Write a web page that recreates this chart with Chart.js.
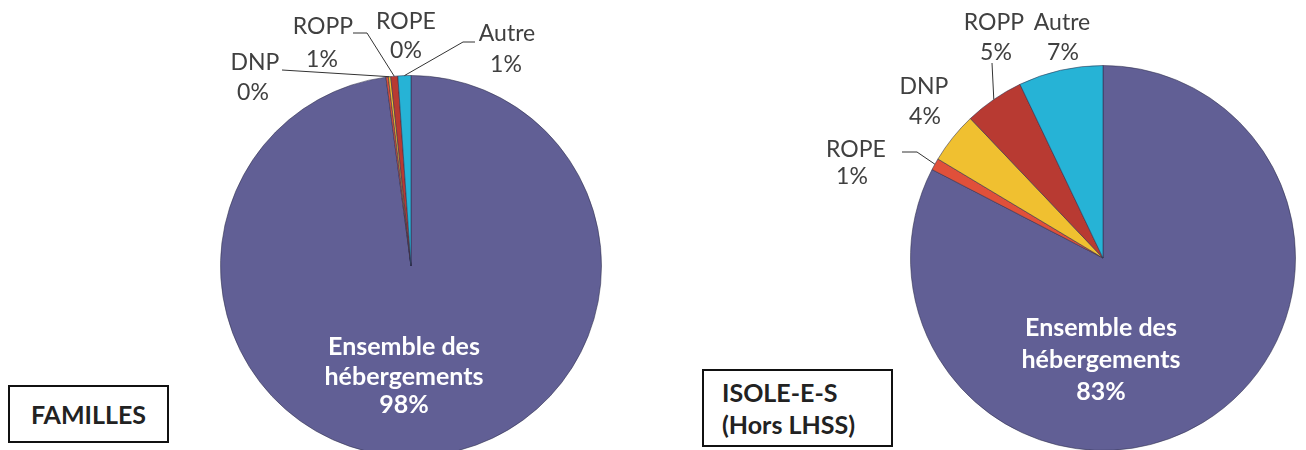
<!DOCTYPE html>
<html>
<head>
<meta charset="utf-8">
<script src="https://cdn.jsdelivr.net/npm/chart.js@4"></script>
<style>
  html, body { margin: 0; padding: 0; background: #fff; }
  body { position: relative; width: 1306px; height: 450px; overflow: hidden; font-family: Lato, sans-serif; }
  .wrap { position: absolute; top: 0; height: 460px; }
  .box { position: absolute; box-sizing: border-box; border: 2px solid #111; background: #fff;
         font-weight: bold; color: #222; font-size: 25px; }
</style>
</head>
<body>
<div class="wrap" style="left:0;width:660px"><canvas id="famillesChart"></canvas></div>
<div class="wrap" style="left:660px;width:646px"><canvas id="isolesChart"></canvas></div>
<div class="box" style="left:8px;top:385px;width:161px;height:58px;display:flex;align-items:center;justify-content:center;">FAMILLES</div>
<div class="box" style="left:702px;top:369px;width:191px;height:78px;padding:5px 0 0 18px;line-height:32px;">ISOLE-E-S<br>(Hors LHSS)</div>
<script>
// categories, in drawing order (clockwise from 12 o'clock)
const categories = ['Ensemble des hébergements', 'ROPE', 'DNP', 'ROPP', 'Autre'];
// percentages
const famillesValues = [97.9, 0.2, 0.2, 0.6, 1.1];
const isolesValues = [82.6, 1.0, 4.3, 5.0, 7.1];

const sliceColors = ['#615f95', '#e0503a', '#f0c030', '#b83a32', '#26b3d6'];

// draws the data labels + leader lines (leaders end on the slice's outer edge)
const sliceLabels = {
    id: 'sliceLabels',
    afterDatasetsDraw(chart, args, opts) {
        const ctx = chart.ctx;
        const meta = chart.getDatasetMeta(0);
        const values = chart.data.datasets[0].data;
        const total = values.reduce((a, b) => a + b, 0);
        ctx.save();
        opts.items.forEach(item => {
            const arc = meta.data[item.index];
            const pct = Math.round(values[item.index] / total * 100) + '%';
            const name = chart.data.labels[item.index];
            let lines;
            if (item.inside) {
                lines = name.replace('des ', 'des\n').split('\n').concat([pct]);
                ctx.fillStyle = '#ffffff';
                ctx.font = 'bold 25px Lato';
            } else {
                lines = [name, pct];
                ctx.fillStyle = '#404040';
                ctx.font = '23px Lato';
            }
            ctx.textAlign = 'center';
            ctx.textBaseline = 'middle';
            lines.forEach((t, i) => ctx.fillText(t, item.x[i] !== undefined ? item.x[i] : item.x[0], item.y[i]));

            if (item.leader) {
                const mid = (arc.startAngle + arc.endAngle) / 2;
                const ex = arc.x + Math.cos(mid) * arc.outerRadius;
                const ey = arc.y + Math.sin(mid) * arc.outerRadius;
                ctx.strokeStyle = '#333';
                ctx.lineWidth = 1;
                ctx.beginPath();
                ctx.moveTo(item.leader[0][0], item.leader[0][1]);
                item.leader.slice(1).forEach(p => ctx.lineTo(p[0], p[1]));
                ctx.lineTo(ex, ey);
                ctx.stroke();
            }
        });
        ctx.restore();
    }
};

function makePie(id, values, padding, items) {
    return new Chart(document.getElementById(id).getContext('2d'), {
        type: 'pie',
        data: {
            labels: categories,
            datasets: [{
                data: values,
                backgroundColor: sliceColors,
                borderColor: 'rgba(45,45,75,0.55)',
                borderWidth: 1
            }]
        },
        options: {
            responsive: true,
            maintainAspectRatio: false,
            animation: false,
            layout: { padding: padding },
            plugins: {
                legend: { display: false },
                tooltip: { enabled: false },
                sliceLabels: { items: items }
            }
        },
        plugins: [sliceLabels]
    });
}

const famillesChart = makePie('famillesChart', famillesValues,
    { left: 220, right: 58, top: 75, bottom: 3 },
    [
        { index: 0, inside: true, x: [404], y: [347, 377, 405] },
        { index: 2, x: [255, 253], y: [63, 93], leader: [[282, 70]] },
        { index: 3, x: [323, 322], y: [27, 60], leader: [[353, 33], [367, 33]] },
        { index: 1, x: [406, 406], y: [22, 51] },
        { index: 4, x: [507, 506], y: [34, 65], leader: [[475, 42], [463, 42]] }
    ]);

const isolesChart = makePie('isolesChart', isolesValues,
    { left: 249, right: 9, top: 65, bottom: 9 },
    [
        { index: 0, inside: true, x: [441], y: [328, 360, 392] },
        { index: 1, x: [196, 192], y: [150, 177], leader: [[242, 152], [257, 152]] },
        { index: 2, x: [264, 265], y: [87, 117] },
        { index: 3, x: [334, 336], y: [23, 53], leader: [[332, 63]] },
        { index: 4, x: [402, 403], y: [23, 53] }
    ]);
</script>
</body>
</html>
